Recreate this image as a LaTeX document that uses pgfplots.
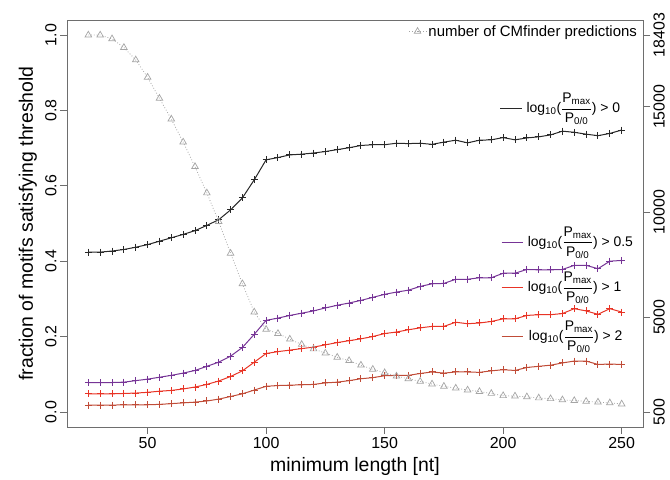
\documentclass[border=0pt]{standalone}
\usepackage{pgfplots}
\pgfplotsset{compat=1.18}
\usepackage{pgfplotstable}
\usepackage{amsmath}
\usepackage{fontspec}
\setmainfont{Liberation Sans}
\usetikzlibrary{calc}

\definecolor{cblack}{RGB}{40,40,40}
\definecolor{cpurple}{RGB}{118,52,150}
\definecolor{cred}{RGB}{232,52,38}
\definecolor{cdred}{RGB}{192,76,56}
\definecolor{cgray}{RGB}{165,165,165}
\definecolor{cframe}{RGB}{110,110,110}

\newcommand{\lr}[1]{log\textsubscript{10}($\genfrac{}{}{0.5pt}{0}{\text{P}_{\text{max}}}{\text{P}_{\text{0/0}}}$) > #1}

\pgfplotstableread{
x p0 p05 p1 p2
25 0.424 0.078 0.048 0.018
30 0.424 0.078 0.048 0.018
35 0.427 0.078 0.048 0.018
40 0.431 0.079 0.049 0.019
45 0.437 0.083 0.050 0.019
50 0.444 0.087 0.052 0.019
55 0.453 0.092 0.055 0.020
60 0.462 0.097 0.057 0.022
65 0.471 0.103 0.061 0.024
70 0.481 0.110 0.066 0.026
75 0.495 0.121 0.073 0.029
80 0.510 0.132 0.082 0.034
85 0.536 0.148 0.094 0.041
90 0.568 0.171 0.109 0.048
95 0.616 0.206 0.132 0.058
100 0.669 0.243 0.155 0.068
105 0.675 0.249 0.160 0.070
110 0.682 0.256 0.164 0.071
115 0.684 0.262 0.168 0.072
120 0.687 0.268 0.172 0.073
125 0.691 0.276 0.178 0.077
130 0.696 0.283 0.184 0.079
135 0.701 0.289 0.189 0.083
140 0.707 0.296 0.194 0.088
145 0.709 0.304 0.200 0.091
150 0.709 0.312 0.208 0.096
155 0.713 0.318 0.212 0.097
160 0.712 0.323 0.218 0.097
165 0.713 0.333 0.223 0.102
170 0.710 0.340 0.227 0.106
175 0.716 0.341 0.227 0.103
180 0.721 0.352 0.238 0.106
185 0.714 0.352 0.234 0.106
190 0.721 0.356 0.236 0.105
195 0.722 0.356 0.240 0.109
200 0.728 0.368 0.247 0.112
205 0.722 0.368 0.247 0.110
210 0.727 0.378 0.256 0.118
215 0.730 0.377 0.258 0.121
220 0.735 0.377 0.258 0.124
225 0.745 0.378 0.261 0.130
230 0.742 0.389 0.274 0.135
235 0.737 0.389 0.268 0.135
240 0.733 0.380 0.259 0.126
245 0.739 0.400 0.274 0.127
250 0.748 0.402 0.265 0.126
}\fracs

\pgfplotstableread{
x n
25 18403
30 18403
35 18224
40 17812
45 17221
50 16398
55 15395
60 14411
65 13319
70 12155
75 10902
80 9541
85 8037
90 6587
95 5244
100 4421
105 4224
110 3955
115 3705
120 3490
125 3293
130 3096
135 2935
140 2720
145 2523
150 2362
155 2201
160 2075
165 1950
170 1825
175 1717
180 1628
185 1538
190 1467
195 1377
200 1270
205 1252
210 1216
215 1162
220 1127
225 1073
230 1037
235 1001
240 965
245 930
250 876
}\counts

\begin{document}
\begin{tikzpicture}
\begin{axis}[
  name=main,
  scale only axis, width=576bp, height=407bp,
  xmin=16, xmax=259, ymin=-0.04, ymax=1.04,
  axis line style={cframe, line width=0.8bp},
  tick style={cframe, line width=0.8bp},
  tick align=outside, major tick length=7bp,
  xtick pos=bottom, ytick pos=left,
  xtick={50,100,150,200,250}, xticklabels={50,100,150,200,250},
  ytick={0,0.2,0.4,0.6,0.8,1}, yticklabels={0.0,0.2,0.4,0.6,0.8,1.0},
  tick label style={font=\fontsize{16}{19}\selectfont},
  yticklabel style={rotate=90, anchor=south},
  xlabel={minimum length [nt]},
  ylabel={fraction of motifs satisfying threshold},
  label style={font=\fontsize{19.5}{23}\selectfont},
  xlabel style={at={(axis description cs:0.5,-0.098)}, anchor=center},
  ylabel style={at={(axis description cs:-0.068,0.5)}, anchor=center},
]
\addplot[cblack, line width=1bp, mark=+, mark size=3.5bp, mark options={line width=1bp}] table[x=x,y=p0]{\fracs};
\addplot[cpurple, line width=1bp, mark=+, mark size=3.5bp, mark options={line width=1bp}] table[x=x,y=p05]{\fracs};
\addplot[cred, line width=1bp, mark=+, mark size=3.5bp, mark options={line width=1bp}] table[x=x,y=p1]{\fracs};
\addplot[cdred, line width=1bp, mark=+, mark size=3.5bp, mark options={line width=1bp}] table[x=x,y=p2]{\fracs};

\draw[cblack, line width=1bp] (axis cs:198.7,0.804) -- (axis cs:207.8,0.804);
\node[anchor=west, font=\fontsize{14}{16}\selectfont, inner sep=0pt] at (axis cs:209.8,0.804) {\lr{0}};
\draw[cpurple, line width=1bp] (axis cs:199.4,0.449) -- (axis cs:208.4,0.449);
\node[anchor=west, font=\fontsize{14}{16}\selectfont, inner sep=0pt] at (axis cs:210.3,0.449) {\lr{0.5}};
\draw[cred, line width=1bp] (axis cs:199.4,0.329) -- (axis cs:208.4,0.329);
\node[anchor=west, font=\fontsize{14}{16}\selectfont, inner sep=0pt] at (axis cs:210.3,0.329) {\lr{1}};
\draw[cdred, line width=1bp] (axis cs:199.4,0.199) -- (axis cs:208.4,0.199);
\node[anchor=west, font=\fontsize{14}{16}\selectfont, inner sep=0pt] at (axis cs:210.8,0.199) {\lr{2}};
\end{axis}

\begin{axis}[
  scale only axis, width=576bp, height=407bp,
  xmin=16, xmax=259, ymin=-216.12, ymax=19119.12,
  axis x line=none, axis y line*=right,
  scaled y ticks=false,
  axis line style={cframe, line width=0.8bp},
  tick style={cframe, line width=0.8bp},
  tick align=outside, major tick length=7bp,
  ytick={500,5000,10000,15000,18403}, yticklabels={500,5000,10000,15000,18403},
  tick label style={font=\fontsize{16}{19}\selectfont},
  yticklabel style={rotate=90, anchor=north},
  legend style={at={(0.995,0.995)}, anchor=north east, draw=none, fill=none,
    font=\fontsize{15}{18}\selectfont, inner sep=1bp},
  legend cell align=left,
]
\addplot[cgray, dotted, line width=0.8bp, mark=triangle, mark size=3.8bp, mark options={solid, line width=0.7bp}] table[x=x,y=n]{\counts};
\addlegendentry{number of CMfinder predictions}
\end{axis}
\pgfresetboundingbox
\path[use as bounding box] ($(main.south west)+(-67bp,-53bp)$) rectangle ($(main.north east)+(27bp,20bp)$);
\end{tikzpicture}
\end{document}
